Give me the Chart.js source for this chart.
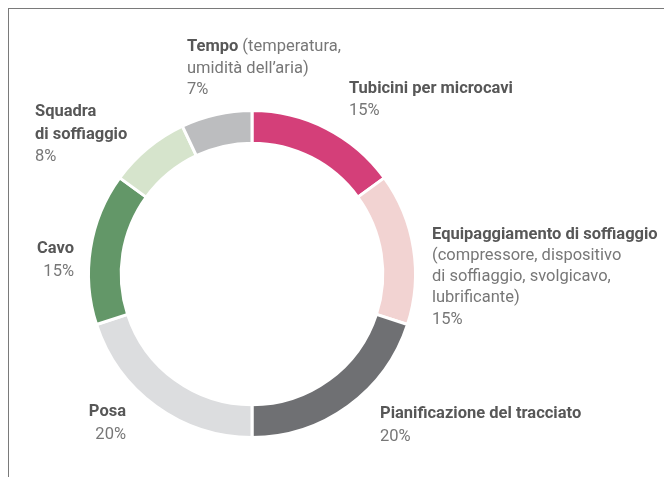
<!DOCTYPE html>
<html>
<head>
<meta charset="utf-8">
<script src="https://cdn.jsdelivr.net/npm/chart.js@4/dist/chart.umd.min.js"></script>
<style>
  html, body { margin: 0; padding: 0; background: #fff; }
  #wrap { position: relative; width: 664px; height: 477px; overflow: hidden; }
  #frame { position: absolute; left: 8px; top: 8px; right: -2px; bottom: -2px;
           border-top: 1px solid #7a7a7a; border-left: 1px solid #7a7a7a; }
  canvas { position: absolute; left: 0; top: 0; }
</style>
</head>
<body>
<div id="wrap">
  <div id="frame"></div>
  <canvas id="chart" width="664" height="477"></canvas>
</div>
<script>
"use strict";

// data
const categories = [
  'Tubicini per microcavi',
  'Equipaggiamento di soffiaggio',
  'Pianificazione del tracciato',
  'Posa',
  'Cavo',
  'Squadra\ndi soffiaggio',
  'Tempo',
];
const notes = [
  '',
  '(compressore, dispositivo\ndi soffiaggio, svolgicavo,\nlubrificante)',
  '',
  '',
  '',
  '',
  '(temperatura,\numidità dell’aria)',
];
const shares = [15, 15, 20, 20, 15, 8, 7];

// look
const colors = ['#d43f79', '#f2d3d2', '#6f7073', '#dcdddf', '#639768', '#d6e4cc', '#bcbdbf'];
const FONT = 'Roboto, "Liberation Sans", sans-serif';
const SIZE = 16.5;
const labelPlaces = [
  { x: 349, y: 93,  align: 'left',  lh: 21.5 },
  { x: 432, y: 238.5, align: 'left', lh: 21.3 },
  { x: 380, y: 418, align: 'left',  lh: 23 },
  { x: 126, y: 416, align: 'right', lh: 23 },
  { x: 74,  y: 253, align: 'right', lh: 23 },
  { x: 35,  y: 116, align: 'left',  lh: 22.5 },
  { x: 187, y: 51,  align: 'left',  lh: 21.5, inline: true },
];

const sliceLabels = {
  id: 'sliceLabels',
  afterDraw(chart) {
    const ctx = chart.ctx;
    ctx.save();
    ctx.textBaseline = 'alphabetic';
    categories.forEach((name, i) => {
      const p = labelPlaces[i];
      const bold = name.split('\n');
      const note = notes[i] ? notes[i].split('\n') : [];
      const lines = bold.map(t => [[t, true]]);
      if (p.inline && note.length) {
        lines[lines.length - 1].push([' ' + note.shift(), false]);
      }
      note.forEach(t => lines.push([[t, false]]));
      lines.push([[shares[i] + '%', false]]);

      lines.forEach((runs, k) => {
        const y = p.y + k * p.lh;
        const widths = runs.map(([t, b]) => {
          ctx.font = (b ? 'bold ' : '') + SIZE + 'px ' + FONT;
          return ctx.measureText(t).width;
        });
        const total = widths.reduce((a, w) => a + w, 0);
        let x = p.align === 'right' ? p.x - total : p.x;
        runs.forEach(([t, b], j) => {
          ctx.font = (b ? 'bold ' : '') + SIZE + 'px ' + FONT;
          ctx.fillStyle = b ? '#575757' : '#777777';
          ctx.textAlign = 'left';
          ctx.fillText(t, x, y);
          x += widths[j];
        });
      });
    });
    ctx.restore();
  }
};

new Chart(document.getElementById('chart'), {
  type: 'doughnut',
  data: {
    labels: categories,
    datasets: [{
      data: shares,
      backgroundColor: colors,
      borderColor: '#ffffff',
      borderWidth: 3,
      hoverOffset: 0,
    }],
  },
  options: {
    responsive: false,
    animation: false,
    cutout: '80%',
    layout: { padding: { left: 87, top: 109, right: 247, bottom: 38 } },
    plugins: {
      legend: { display: false },
      tooltip: { enabled: false },
    },
  },
  plugins: [sliceLabels],
});
</script>
</body>
</html>
